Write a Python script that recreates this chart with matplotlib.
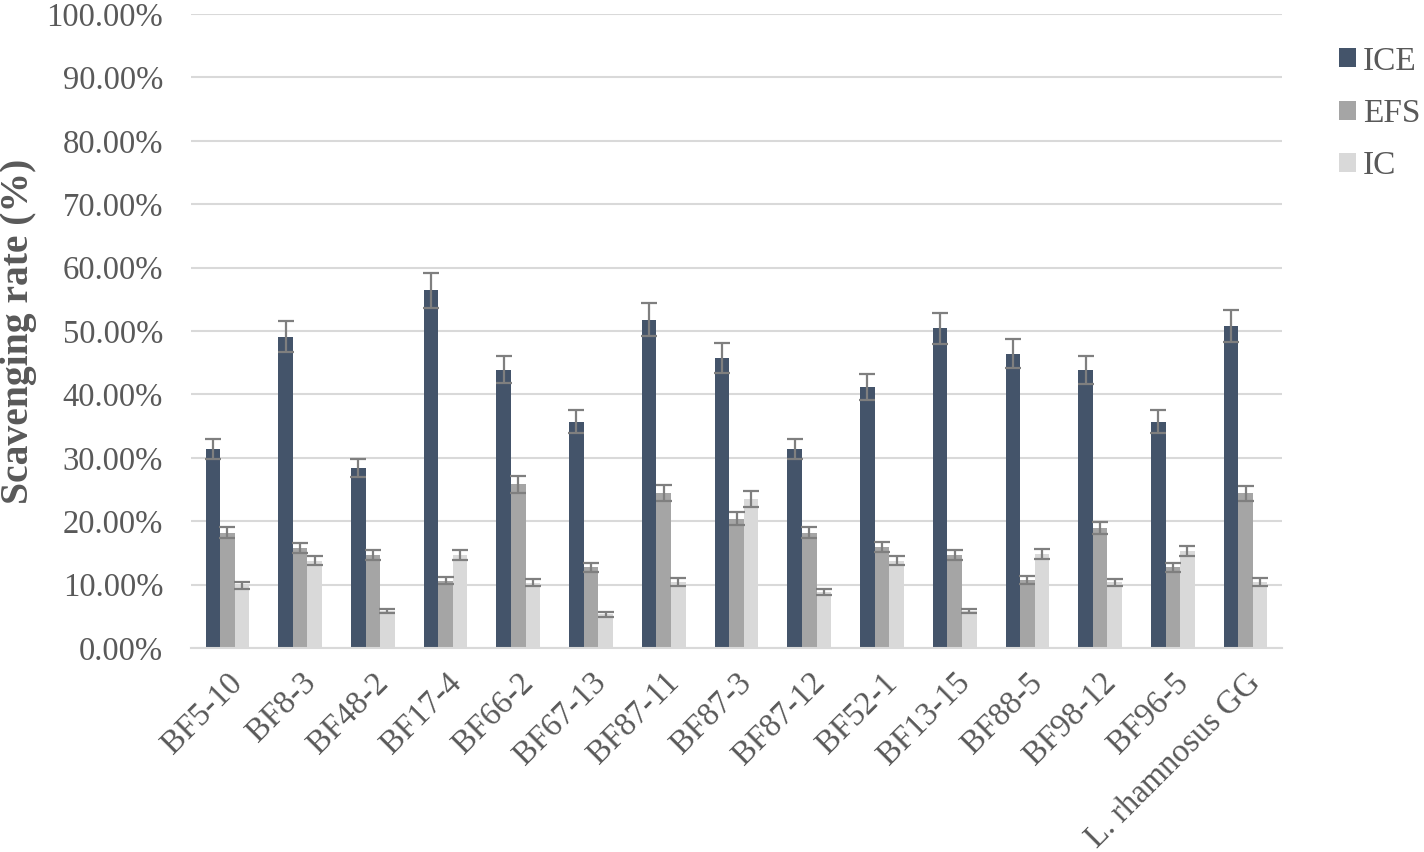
import numpy as np
import matplotlib
matplotlib.use('Agg')
import matplotlib.pyplot as plt
from matplotlib.ticker import FuncFormatter

plt.rcParams['font.family'] = ['Liberation Serif', 'DejaVu Serif']

strains = ['BF5-10', 'BF8-3', 'BF48-2', 'BF17-4', 'BF66-2', 'BF67-13', 'BF87-11',
           'BF87-3', 'BF87-12', 'BF52-1', 'BF13-15', 'BF88-5', 'BF98-12', 'BF96-5',
           'L. rhamnosus GG']

# scavenging rate (%) and error
ice = [31.4, 49.1, 28.4, 56.4, 43.9, 35.7, 51.8, 45.7, 31.4, 41.1, 50.4, 46.4, 43.9, 35.7, 50.8]
ice_err = [1.6, 2.45, 1.4, 2.8, 2.15, 1.8, 2.6, 2.4, 1.6, 2.05, 2.5, 2.3, 2.2, 1.8, 2.5]
efs = [18.2, 15.8, 14.7, 10.6, 25.8, 12.7, 24.4, 20.4, 18.2, 15.9, 14.7, 10.7, 18.9, 12.7, 24.4]
efs_err = [0.9, 0.8, 0.76, 0.53, 1.3, 0.66, 1.26, 1.0, 0.9, 0.8, 0.8, 0.6, 0.95, 0.66, 1.2]
ic = [9.8, 13.8, 5.8, 14.7, 10.3, 5.3, 10.4, 23.5, 8.8, 13.8, 5.8, 14.8, 10.4, 15.3, 10.4]
ic_err = [0.55, 0.74, 0.34, 0.76, 0.55, 0.34, 0.58, 1.2, 0.5, 0.74, 0.35, 0.8, 0.55, 0.8, 0.6]

series = [('ICE', ice, ice_err, '#44546A'),
          ('EFS', efs, efs_err, '#A5A5A5'),
          ('IC', ic, ic_err, '#D9D9D9')]

fig = plt.figure(figsize=(14.24, 8.52), dpi=100)
ax = fig.add_axes([191/1424, 1-648/852, (1282-191)/1424, (648-14)/852])

x = np.arange(len(strains))
w = 0.2
for i, (name, vals, errs, col) in enumerate(series):
    ax.bar(x + (i-1)*w, vals, width=w, color=col, label=name, zorder=2)
    ax.errorbar(x + (i-1)*w, vals, yerr=errs, fmt='none', ecolor='#7F7F7F',
                elinewidth=1.6, capsize=5.5, capthick=1.6, zorder=3)

ax.set_xlim(-0.5, len(strains)-0.5)
ax.set_ylim(0, 100)
ax.set_yticks(np.arange(0, 101, 10))
ax.yaxis.set_major_formatter(FuncFormatter(lambda v, p: f'{v:.2f}%'))
ax.grid(axis='y', color='#D9D9D9', linewidth=1.5, zorder=0)
ax.set_axisbelow(True)
for s in ['top', 'right', 'left']:
    ax.spines[s].set_visible(False)
ax.spines['bottom'].set_color('#D9D9D9')
ax.spines['bottom'].set_linewidth(1.5)
ax.tick_params(axis='both', length=0, labelsize=23.5, labelcolor='#595959')
ax.tick_params(axis='y', pad=20)
ax.set_xticks(x)
ax.set_xticklabels(strains, rotation=45, ha='right', rotation_mode='anchor')
ax.tick_params(axis='x', pad=14)

ax.set_ylabel('Scavenging rate (%)', fontsize=28.5, fontweight='bold', color='#595959')
ax.yaxis.set_label_coords((37-191)/1091, 0.5)

fig.legend(loc='upper left', bbox_to_anchor=(1339/1424, 1-46/852), frameon=False,
           fontsize=24, labelcolor='#595959', handlelength=0.51, handleheight=0.51,
           handletextpad=0.21, labelspacing=0.66, borderpad=0, borderaxespad=0)

fig.savefig('out.png', dpi=100)
